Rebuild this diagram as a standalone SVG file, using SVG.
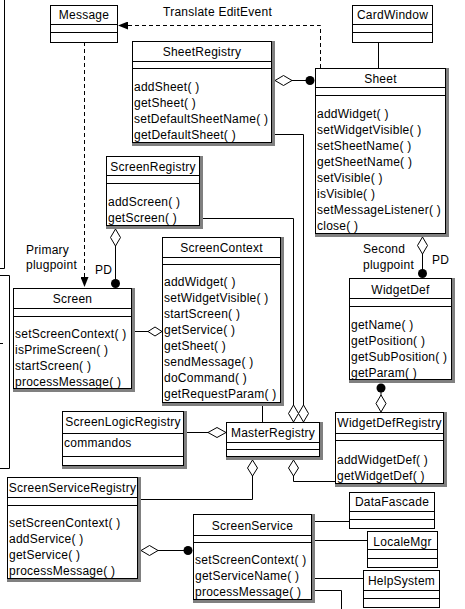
<svg xmlns="http://www.w3.org/2000/svg" width="465" height="609" viewBox="0 0 465 609">
<style>
text{font-family:"Liberation Sans",Arial,sans-serif;font-size:12px;fill:#000;letter-spacing:0.25px}
.t{text-anchor:middle}
.box{fill:#fff;stroke:#000;stroke-width:1}
.sh{fill:#808080}
.ln{fill:none;stroke:#000;stroke-width:1}
.dash{fill:none;stroke:#000;stroke-width:1;stroke-dasharray:4 3}
.dia{fill:#fff;stroke:#000;stroke-width:1}
.dot{fill:#000}
</style>
<defs>
<marker id="arr" markerUnits="userSpaceOnUse" markerWidth="10" markerHeight="8" refX="10" refY="4" orient="auto">
<path d="M0,0 L10,4 L0,8 Z" fill="#000"/>
</marker>
</defs>
<rect width="465" height="609" fill="#fff"/>

<g id="edge-boxes">
<path class="ln" d="M4.5,0 V268.5 H0"/>
<path class="ln" d="M0,275.5 H9.5 V468.5 H0"/>
<path class="ln" d="M0,343.5 H3"/>
</g>

<g id="connectors">
<path class="dash" d="M320.5,68 V25.5 H118" marker-end="url(#arr)"/>
<text x="163" y="16">Translate EditEvent</text>
<path class="dash" d="M84.5,42 V287" marker-end="url(#arr)"/>
<path class="ln" d="M378.5,42 V68"/>
<!-- SheetRegistry - Sheet -->
<path class="ln" d="M292,80.5 H306"/>
<path class="dia" d="M275,80.5 L283.5,75.5 L292,80.5 L283.5,85.5 Z"/>
<circle class="dot" cx="310" cy="80.5" r="4.5"/>
<!-- SheetRegistry / ScreenRegistry to MasterRegistry -->
<path class="ln" d="M275,134.5 H303.5 V405"/>
<path class="ln" d="M202,218.5 H293.5 V405"/>
<path class="dia" d="M303.5,405 L308.5,413.5 L303.5,422 L298.5,413.5 Z"/>
<path class="dia" d="M293.5,405 L298.5,413.5 L293.5,422 L288.5,413.5 Z"/>
<path class="ln" d="M262.5,402 V422"/>
<!-- ScreenLogicRegistry - MasterRegistry -->
<path class="ln" d="M187,432.5 H209"/>
<path class="dia" d="M208,432.5 L217,427.5 L226,432.5 L217,437.5 Z"/>
<!-- MasterRegistry bottom -->
<path class="ln" d="M252.5,476 V499.5 H141"/>
<path class="dia" d="M252.5,460 L257.5,468 L252.5,476 L247.5,468 Z"/>
<path class="ln" d="M293.5,476 V481.5 H335"/>
<path class="dia" d="M293.5,460 L298.5,468 L293.5,476 L288.5,468 Z"/>
<!-- ScreenRegistry - Screen -->
<path class="ln" d="M115.5,246 V280"/>
<path class="dia" d="M115.5,229 L120.5,237.5 L115.5,246 L110.5,237.5 Z"/>
<circle class="dot" cx="115.5" cy="283.5" r="4.5"/>
<text x="26" y="254">Primary</text>
<text x="26" y="269">plugpoint</text>
<text x="95" y="274">PD</text>
<!-- Screen - ScreenContext -->
<path class="ln" d="M135,331.5 H149"/>
<path class="dia" d="M148,331.5 L155,327 L162,331.5 L155,336 Z"/>
<!-- Sheet - WidgetDef -->
<path class="ln" d="M422.5,254 V270"/>
<path class="dia" d="M422.5,237 L427.5,245.5 L422.5,254 L417.5,245.5 Z"/>
<circle class="dot" cx="422.5" cy="273.5" r="4.5"/>
<text x="363" y="253">Second</text>
<text x="363" y="269">plugpoint</text>
<text x="432" y="264">PD</text>
<!-- WidgetDef - WidgetDefRegistry -->
<circle class="dot" cx="381" cy="388" r="4.5"/>
<path class="ln" d="M381,391 V396"/>
<path class="dia" d="M381,395 L386,403.5 L381,412 L376,403.5 Z"/>
<!-- ScreenServiceRegistry - ScreenService -->
<path class="ln" d="M158,550.5 H184"/>
<path class="dia" d="M141,550.5 L149.5,545.5 L158,550.5 L149.5,555.5 Z"/>
<circle class="dot" cx="188" cy="550.5" r="4.5"/>
<!-- ScreenService to services -->
<path class="ln" d="M315,521.5 H349"/>
<path class="ln" d="M315,540.5 H367"/>
<path class="ln" d="M315,578.5 H363"/>
<path class="ln" d="M315,590.5 H341.5 V609"/>
</g>

<g id="Message">
<rect class="box" x="50.5" y="5.5" width="67" height="37"/>
<path class="ln" d="M50.5,24.5 H117.5 M50.5,32.5 H117.5"/>
<text class="t" x="84" y="19">Message</text>
</g>

<g id="CardWindow">
<rect class="box" x="352.5" y="5.5" width="80" height="37"/>
<path class="ln" d="M352.5,24.5 H432.5 M352.5,32.5 H432.5"/>
<text class="t" x="392.5" y="19">CardWindow</text>
</g>

<g id="SheetRegistry">
<rect class="sh" x="132" y="41" width="143" height="105"/>
<rect class="box" x="132.5" y="41.5" width="139" height="101"/>
<path class="ln" d="M132.5,61.5 H271.5 M132.5,68.5 H271.5"/>
<text class="t" x="202" y="56">SheetRegistry</text>
<text x="134" y="91">addSheet( )</text>
<text x="134" y="107">getSheet( )</text>
<text x="134" y="123">setDefaultSheetName( )</text>
<text x="134" y="139">getDefaultSheet( )</text>
</g>

<g id="Sheet">
<rect class="sh" x="315" y="68" width="134" height="169"/>
<rect class="box" x="315.5" y="68.5" width="130" height="165"/>
<path class="ln" d="M315.5,87.5 H445.5 M315.5,95.5 H445.5"/>
<text class="t" x="380.5" y="83">Sheet</text>
<text x="317" y="118">addWidget( )</text>
<text x="317" y="134">setWidgetVisible( )</text>
<text x="317" y="150">setSheetName( )</text>
<text x="317" y="166">getSheetName( )</text>
<text x="317" y="182">setVisible( )</text>
<text x="317" y="198">isVisible( )</text>
<text x="317" y="214">setMessageListener( )</text>
<text x="317" y="230">close( )</text>
</g>

<g id="ScreenRegistry">
<rect class="sh" x="106" y="156" width="97" height="73"/>
<rect class="box" x="106.5" y="156.5" width="93" height="69"/>
<path class="ln" d="M106.5,175.5 H199.5 M106.5,183.5 H199.5"/>
<text class="t" x="153" y="171">ScreenRegistry</text>
<text x="108" y="206">addScreen( )</text>
<text x="108" y="222">getScreen( )</text>
</g>

<g id="ScreenContext">
<rect class="sh" x="162" y="237" width="122" height="169"/>
<rect class="box" x="162.5" y="237.5" width="118" height="165"/>
<path class="ln" d="M162.5,257.5 H280.5 M162.5,264.5 H280.5"/>
<text class="t" x="221.5" y="252">ScreenContext</text>
<text x="164" y="286">addWidget( )</text>
<text x="164" y="302">setWidgetVisible( )</text>
<text x="164" y="318">startScreen( )</text>
<text x="164" y="334">getService( )</text>
<text x="164" y="350">getSheet( )</text>
<text x="164" y="366">sendMessage( )</text>
<text x="164" y="382">doCommand( )</text>
<text x="164" y="398">getRequestParam( )</text>
</g>

<g id="Screen">
<rect class="sh" x="13" y="288" width="122" height="104"/>
<rect class="box" x="13.5" y="288.5" width="118" height="100"/>
<path class="ln" d="M13.5,308.5 H131.5 M13.5,316.5 H131.5"/>
<text class="t" x="72.5" y="303">Screen</text>
<text x="15" y="338">setScreenContext( )</text>
<text x="15" y="354">isPrimeScreen( )</text>
<text x="15" y="370">startScreen( )</text>
<text x="15" y="386">processMessage( )</text>
</g>

<g id="WidgetDef">
<rect class="sh" x="349" y="278" width="106" height="105"/>
<rect class="box" x="349.5" y="278.5" width="102" height="101"/>
<path class="ln" d="M349.5,298.5 H451.5 M349.5,306.5 H451.5"/>
<text class="t" x="400.5" y="294">WidgetDef</text>
<text x="351" y="329">getName( )</text>
<text x="351" y="345">getPosition( )</text>
<text x="351" y="361">getSubPosition( )</text>
<text x="351" y="377">getParam( )</text>
</g>

<g id="ScreenLogicRegistry">
<rect class="sh" x="62" y="411" width="125" height="58"/>
<rect class="box" x="62.5" y="411.5" width="121" height="54"/>
<path class="ln" d="M62.5,433.5 H183.5 M62.5,456.5 H183.5"/>
<text class="t" x="123" y="426">ScreenLogicRegistry</text>
<text x="64" y="447">commandos</text>
</g>

<g id="MasterRegistry">
<rect class="sh" x="226" y="422" width="97" height="38"/>
<rect class="box" x="226.5" y="422.5" width="93" height="34"/>
<path class="ln" d="M226.5,442.5 H319.5 M226.5,449.5 H319.5"/>
<text class="t" x="273" y="437">MasterRegistry</text>
</g>

<g id="WidgetDefRegistry">
<rect class="sh" x="335" y="412" width="112" height="75"/>
<rect class="box" x="335.5" y="412.5" width="108" height="71"/>
<path class="ln" d="M335.5,433.5 H443.5 M335.5,440.5 H443.5"/>
<text class="t" x="389.5" y="427">WidgetDefRegistry</text>
<text x="337" y="464">addWidgetDef( )</text>
<text x="337" y="480">getWidgetDef( )</text>
</g>

<g id="ScreenServiceRegistry">
<rect class="sh" x="7" y="477" width="134" height="105"/>
<rect class="box" x="7.5" y="477.5" width="130" height="101"/>
<path class="ln" d="M7.5,497.5 H137.5 M7.5,505.5 H137.5"/>
<text class="t" x="72.5" y="492">ScreenServiceRegistry</text>
<text x="9" y="527">setScreenContext( )</text>
<text x="9" y="543">addService( )</text>
<text x="9" y="559">getService( )</text>
<text x="9" y="575">processMessage( )</text>
</g>

<g id="ScreenService">
<rect class="sh" x="193" y="514" width="122" height="89"/>
<rect class="box" x="193.5" y="514.5" width="118" height="85"/>
<path class="ln" d="M193.5,535.5 H311.5 M193.5,542.5 H311.5"/>
<text class="t" x="252.5" y="530">ScreenService</text>
<text x="195" y="564">setScreenContext( )</text>
<text x="195" y="580">getServiceName( )</text>
<text x="195" y="596">processMessage( )</text>
</g>

<g id="DataFascade">
<rect class="box" x="349.5" y="492.5" width="85" height="36"/>
<path class="ln" d="M349.5,511.5 H434.5 M349.5,519.5 H434.5"/>
<text class="t" x="392" y="506">DataFascade</text>
</g>

<g id="LocaleMgr">
<rect class="box" x="367.5" y="531.5" width="70" height="36"/>
<path class="ln" d="M367.5,549.5 H437.5 M367.5,558.5 H437.5"/>
<text class="t" x="402.5" y="546">LocaleMgr</text>
</g>

<g id="HelpSystem">
<rect class="box" x="363.5" y="570.5" width="76" height="37"/>
<path class="ln" d="M363.5,590.5 H439.5 M363.5,598.5 H439.5"/>
<text class="t" x="401.5" y="585">HelpSystem</text>
</g>
</svg>
